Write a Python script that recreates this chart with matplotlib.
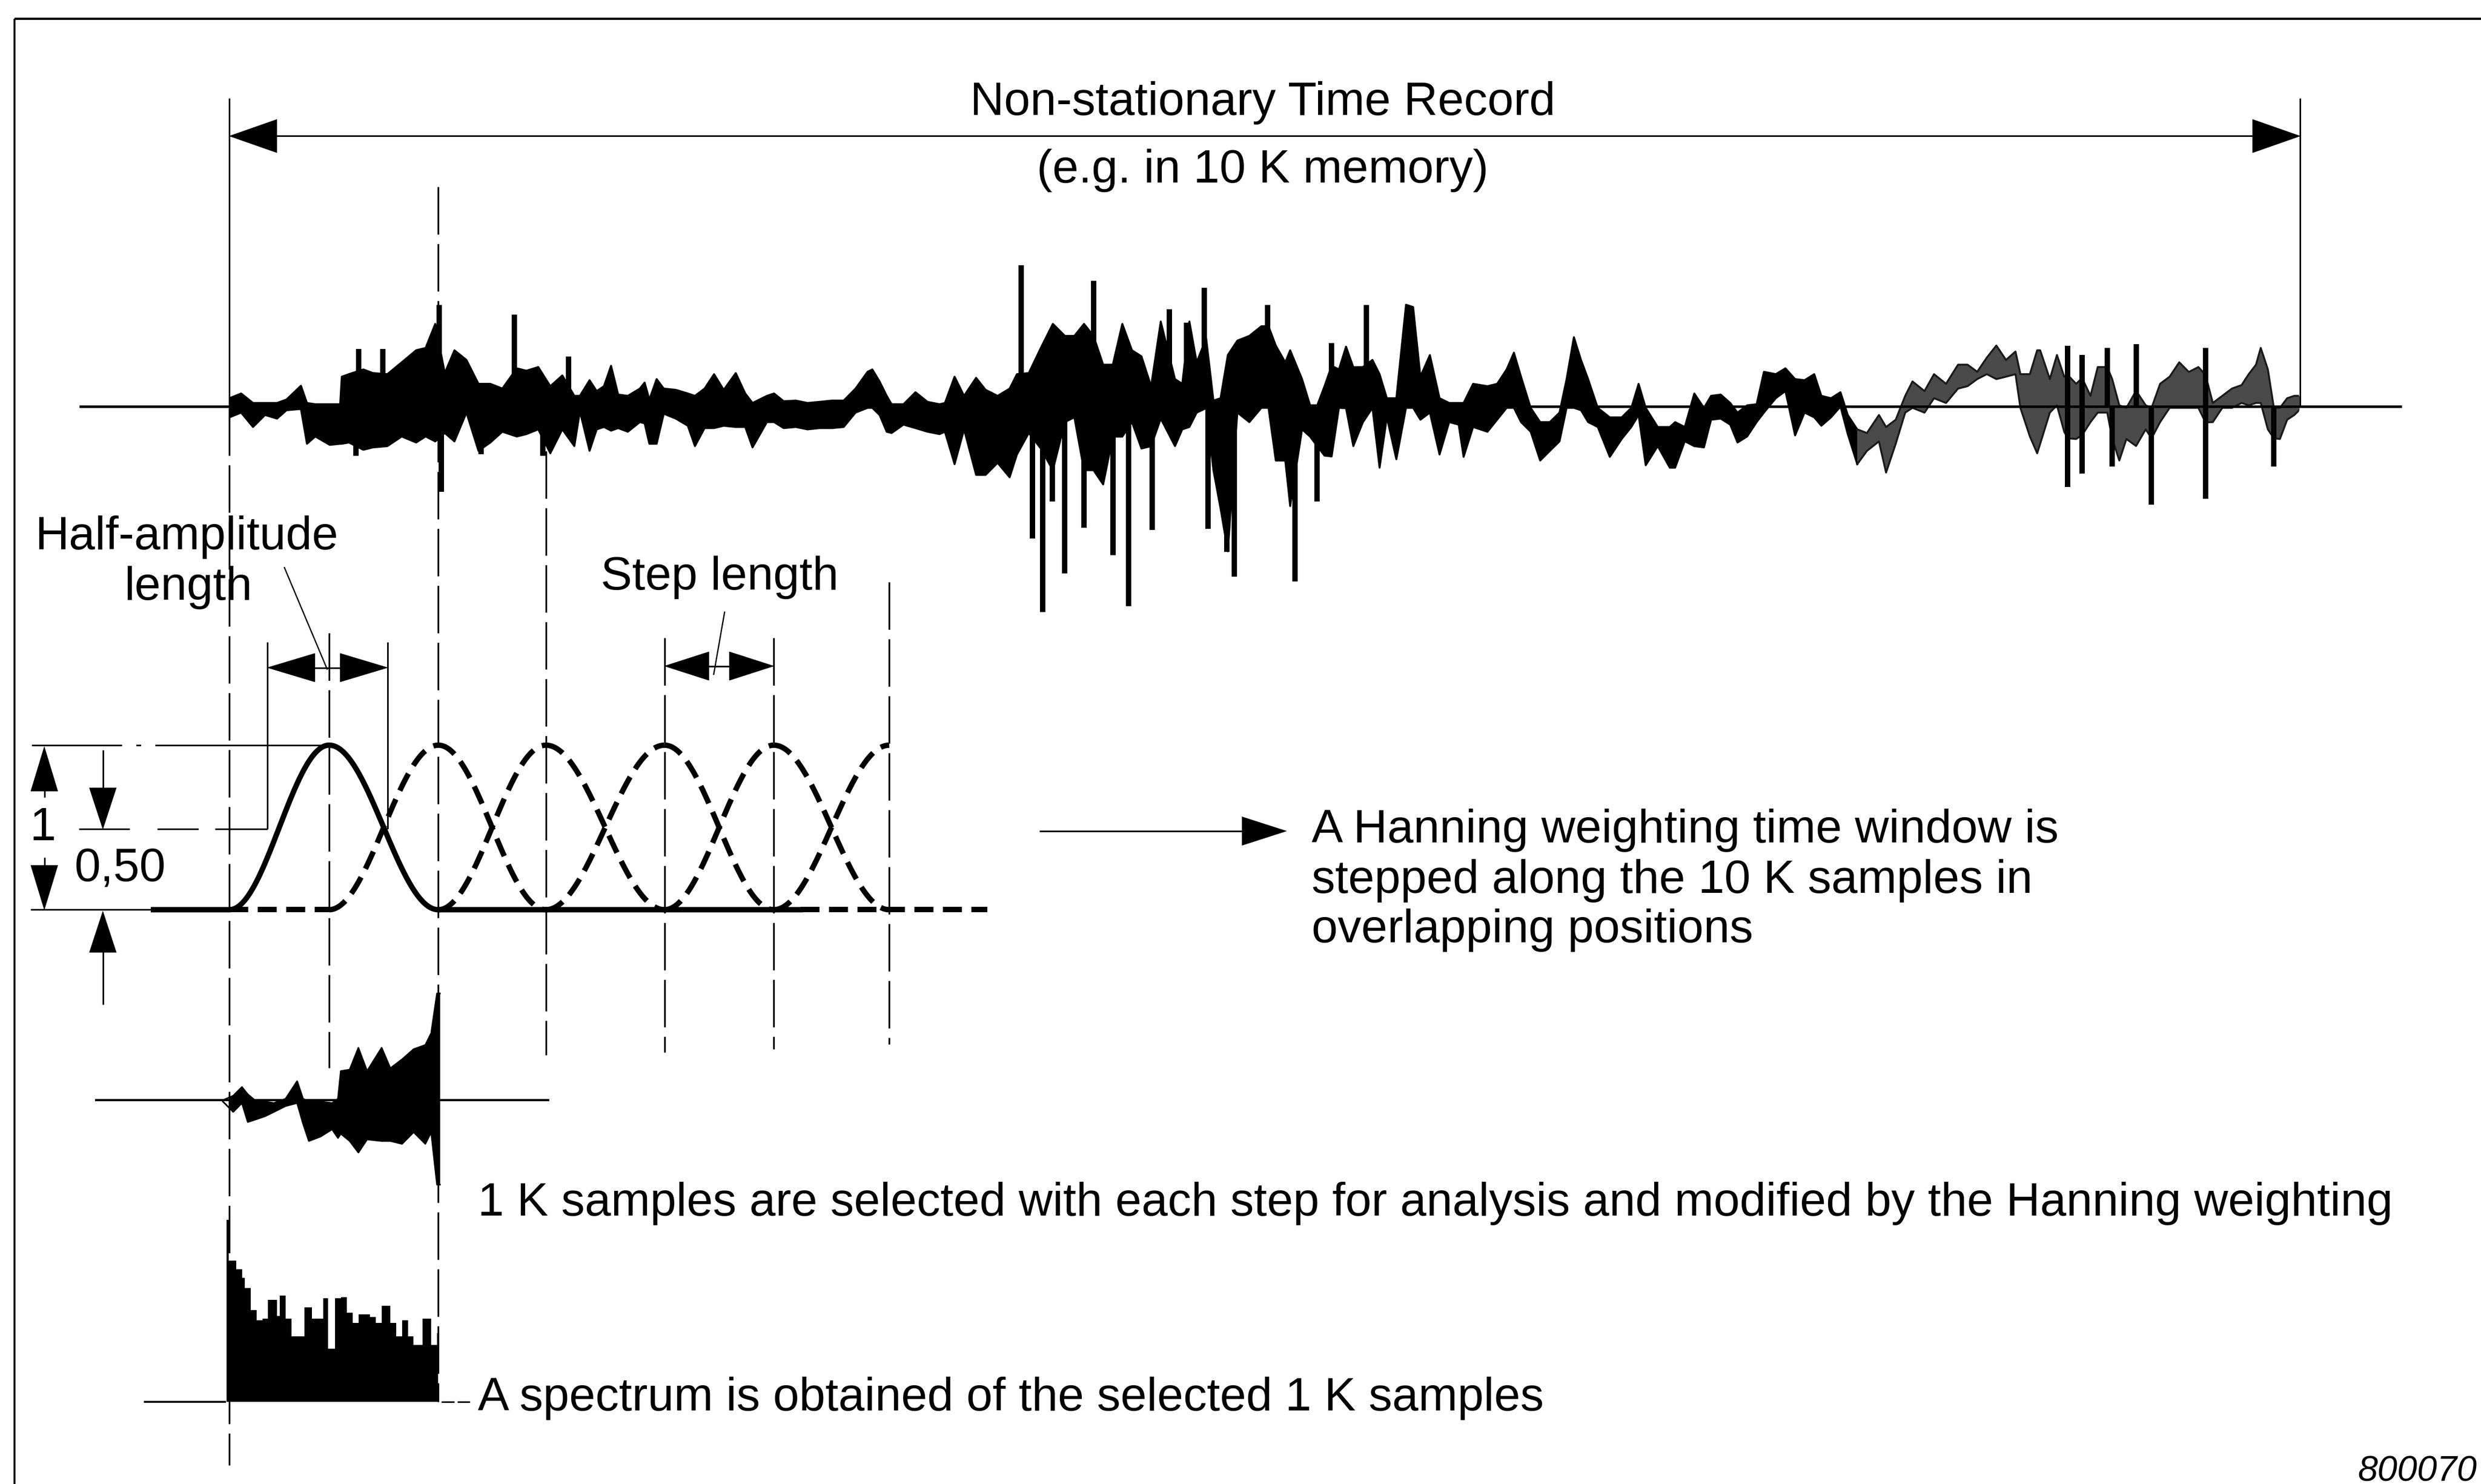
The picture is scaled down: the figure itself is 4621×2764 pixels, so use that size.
import numpy as np
import matplotlib.pyplot as plt
from matplotlib.patches import Polygon

plt.rcParams['font.family'] = ['Liberation Sans', 'DejaVu Sans']
plt.rcParams['lines.scale_dashes'] = False

# --- 10 K time record: envelope (time index, upper, lower amplitude) ---
rec_t = [0.0, 7.4, 14.9, 22.5, 30.1, 36.1, 45.2, 49.0, 54.3, 63.4, 70.0, 71.0,
         75.5, 84.6, 90.7, 99.8, 108.9, 118.0, 124.0, 130.1, 136.1, 142.2, 149.8,
         157.4, 164.9, 172.5, 181.6, 187.7, 195.2, 202.8, 210.4, 218.0,
         221.5, 227.6, 232.1, 236.7, 241.2, 245.7, 251.8, 259.4, 262.4, 265.4,
         270.0, 274.5, 282.1, 289.7, 294.2, 300.3, 306.3, 312.4, 320.0, 326.0,
         330.6, 339.7, 344.2, 350.3, 357.9, 365.4, 373.0, 380.6, 388.2, 395.7,
         403.3, 406.3, 410.9, 415.4, 418.5, 426.0, 433.6, 441.2, 448.8,
         452.2, 458.3, 464.3, 471.9, 477.9, 485.5, 493.1, 497.7, 505.2, 512.8,
         520.4, 528.0, 534.0, 540.1, 546.1, 552.2, 558.3, 564.3, 570.4, 576.4,
         582.5, 588.6, 597.6, 602.2, 606.7, 611.3, 617.3, 621.9, 626.4, 631.0,
         637.0, 644.6, 652.2, 656.7, 661.3, 667.3, 670.4, 677.9,
         683.0, 687.5, 692.1, 696.6, 701.2, 705.7, 710.3, 716.3, 722.4, 726.9,
         731.5, 737.5, 743.6, 748.1, 752.7, 758.7, 764.8, 770.9, 776.9, 780.0,
         786.0, 795.1, 801.2, 807.2, 811.8, 816.3, 822.4, 828.4, 834.5, 840.6,
         845.1, 849.7, 854.2, 858.7, 864.8, 872.4, 879.9, 886.0, 890.6, 895.1,
         902.7, 910.3,
         913.7, 919.8, 925.8, 931.9, 936.4, 942.5, 948.5, 953.1, 959.2, 965.2,
         969.8, 977.3, 983.4, 989.5, 995.5, 1001.6, 1006.1, 1012.2, 1018.2,
         1022.8, 1028.8, 1034.9, 1042.5, 1047.0, 1053.1, 1059.1, 1063.7, 1071.3,
         1077.3, 1084.9, 1092.5, 1098.5, 1104.6, 1110.7, 1116.7, 1122.8, 1128.8,
         1131.9, 1137.9, 1142.5,
         1144.4, 1150.5, 1155.0, 1159.6, 1161.8, 1167.1, 1170.9, 1176.2, 1180.8,
         1186.8, 1189.9, 1194.4, 1198.9, 1205.0, 1211.1, 1214.8, 1220.2, 1226.2,
         1232.3, 1238.3, 1244.4, 1248.9, 1253.5, 1259.5, 1265.6, 1271.7, 1276.2,
         1280.8, 1283.8, 1288.3, 1292.1, 1295.9, 1300.5, 1305.0, 1309.6]
rec_top = [5.3, 8.3, 2.3, 2.3, 2.3, 4.5, 13.2, 2.3, 1.5, 1.5, 1.5, 18.9,
           20.5, 23.5, 21.2, 20.5, 28.0, 35.6, 37.1, 52.3, 21.2, 35.6, 29.5,
           14.4, 14.4, 11.4, 24.2, 22.7, 25.0, 12.9, 19.7, 6.8,
           6.8, 16.7, 9.8, 12.9, 25.8, 7.6, 6.8, 11.4, 15.2, 4.5,
           17.4, 11.4, 10.6, 8.3, 6.8, 11.4, 20.5, 10.6, 21.2, 8.3,
           2.3, 6.8, 8.3, 3.4, 3.8, 2.3, 3.0, 3.8, 3.8, 11.4,
           22.0, 23.5, 15.9, 6.8, 1.5, 1.5, 9.1, 3.0, 1.5,
           2.3, 18.9, 6.8, 18.2, 10.6, 6.8, 11.4, 20.5, 21.2, 37.1,
           52.3, 44.7, 44.7, 52.3, 44.7, 26.5, 26.5, 52.3, 35.6, 31.8,
           12.9, 53.8, 17.4, 14.4, 53.8, 28.0, 43.2, 3.8, 5.3, 32.6,
           41.7, 44.7, 50.8, 50.8, 38.6, 28.0, 35.6, 17.4,
           0.8, 0.8, 12.9, 25.8, 23.5, 37.9, 24.9, 25.0, 29.5, 20.5,
           5.3, 5.3, 64.4, 62.9, 19.0, 32.6, 5.3, 2.3, 2.3, 2.3,
           14.4, 12.9, 14.4, 23.5, 34.1, 18.9, -0.8, -9.8, -9.8, -3.8,
           17.4, 43.9, 29.5, 17.4, -0.8, -6.8, -6.8, -0.8, 14.4, -0.8,
           -12.9, -12.9,
           -9.8, -12.9, 8.3, -0.8, 6.8, 7.6, 2.3, -3.8, 0.8, 1.5,
           22.0, 20.5, 24.2, 17.4, 16.7, 20.5, 6.8, 5.3, 9.1,
           -5.3, -14.4, -16.7, -5.3, -12.9, -8.3, 6.8, 15.9, 9.8,
           20.5, 14.4, 26.5, 26.5, 22.0, 31.0, 38.6, 29.5, 34.8,
           20.5, 20.5, 35.6,
           35.6, 17.4, 32.6, 18.9, 20.0, 14.4, 18.0, 6.8, 25.0,
           25.0, 17.4, 0.8, -0.8, 10.0, 0.8, -0.8, 14.4, 18.9,
           28.0, 21.9, 25.0, 20.0, 2.3, 6.8, 11.4, 13.6, 20.5,
           26.5, 37.1, 23.5, -0.8, -0.8, 5.3, 6.8, 6.8]
rec_bot = [-6.8, -3.8, -12.9, -5.3, -7.6, -2.3, -1.5, -23.5, -18.9, -24.2, -23.5, -23.5,
           -22.7, -27.3, -25.8, -25.0, -18.9, -22.7, -18.9, -22.0, -16.7, -22.0, -3.8,
           -28.0, -22.7, -15.9, -18.9, -17.4, -14.4, -29.5, -14.4, -25.0,
           -3.0, -28.0, -14.4, -12.9, -15.2, -13.6, -15.9, -9.8, -10.6, -23.5,
           -23.5, -4.5, -7.6, -12.1, -25.0, -13.6, -13.6, -12.1, -12.9, -12.9,
           -25.8, -9.8, -9.8, -13.6, -12.9, -14.4, -13.6, -13.6, -12.9, -3.8,
           -0.8, -0.8, -5.3, -15.9, -16.7, -11.4, -13.6, -15.9, -17.4,
           -15.9, -36.4, -14.4, -43.2, -43.2, -35.6, -44.7, -30.3, -16.7, -26.5,
           -40.2, -9.8, -6.8, -40.2, -40.2, -49.2, -19.0, -19.0, -9.8, -26.5,
           -25.0, -7.6, -25.0, -14.4, -12.9, -3.8, -1.0, -40.2, -64.4, -91.5,
           -3.8, -9.8, -0.8, -0.8, -34.1, -34.1, -62.9, -14.4,
           -19.0, -25.0, -31.0, -31.5, -0.8, -1.0, -25.0, -10.0, -0.8, -38.6,
           -6.8, -33.3, -0.8, -0.8, -8.3, -3.8, -30.3, -9.8, -11.4, -31.8,
           -12.9, -15.9, -8.3, -0.8, -0.8, -9.8, -15.9, -34.1, -28.0, -22.0,
           -0.8, -0.8, -2.3, -9.8, -12.9, -31.8, -20.5, -12.9, -5.3, -37.1,
           -25.0, -38.6,
           -38.6, -21.9, -25.0, -25.8, -8.3, -7.6, -11.4, -22.7, -18.9, -9.8,
           -3.8, 5.3, 9.8, -18.2, -3.8, -6.8, -12.1, -6.8, 0.0,
           -17.4, -36.4, -28.0, -22.0, -41.7, -23.5, -3.8, -0.8, -3.8,
           5.3, 2.3, 11.4, 12.9, 17.4, 20.5, 17.4, 18.9, 20.5,
           -0.8, -18.9, -29.5,
           -23.5, -3.8, 0.8, -15.9, -20.0, -20.5, -18.0, -9.8, -3.8,
           -3.8, -20.0, -34.1, -20.5, -24.9, -14.4, -20.0, -9.8, -0.8,
           -0.8, -0.8, -0.8, -10.0, -9.8, -0.8, -0.8, 2.3, 0.8,
           2.3, 2.3, -14.4, -20.0, -20.5, -8.3, -5.3, -0.8]

# narrow transients of the record (time index, tip amplitude)
spike_t = [81.6, 96.8, 132.4, 180.1, 214.2, 133.9, 80.0, 159.0, 198.2,
           500.4, 546.1, 593.9, 604.9, 616.1, 656.0,
           507.5, 514.0, 520.0, 528.0, 540.0, 558.3, 568.1, 583.2, 618.5,
           630.2, 635.2, 673.4,
           687.5, 696.6, 718.5,
           1161.8, 1170.9, 1186.8, 1205.0, 1248.9,
           1161.8, 1170.9, 1189.9, 1214.8, 1248.9, 1292.1]
spike_amp = [36.4, 36.4, 64.4, 58.3, 31.8, -53.8, -31.0, -30.0, -31.0,
             89.4, 79.5, 61.4, 53.0, 75.0, 64.4,
             -83.3, -130.0, -59.8, -105.3, -76.5, -93.9, -126.0, -78.0, -77.3,
             -91.7, -107.6, -110.6,
             -59.8, 40.2, 64.4,
             38.6, 32.6, 37.1, 39.4, 37.1,
             -50.8, -42.4, -37.9, -62.1, -58.3, -37.9]

# --- selected 1 K samples after weighting ---
sel_t = [-4.1, 2.4, 7.9, 11.6, 17.1, 22.6, 28.1, 35.5, 42.8, 46.5, 50.2, 57.6,
         64.9, 68.6, 70.4, 76.0, 81.5, 87.0, 96.2, 101.7, 109.1, 116.4, 123.8,
         127.5, 131.2, 133.0]
sel_top = [0.0, 2.8, 8.3, 3.7, -0.9, -0.9, -1.8, 0.9, 12.0, 0.9, -0.9, -0.9,
           -1.8, 0.9, 18.4, 19.3, 33.1, 18.4, 33.1, 20.2, 25.8, 32.2, 34.9,
           42.3, 67.5, 67.5]
sel_bot = [-0.9, -7.4, -1.8, -13.8, -12.0, -10.1, -7.4, -3.7, -1.8, -14.7, -25.8,
           -23.0, -18.4, -23.9, -21.2, -25.8, -33.1, -24.8, -25.8, -25.8, -27.6,
           -20.2, -27.6, -20.2, -53.4, -53.4]

# --- spectrum of the selected samples ---
spec_f = [0.3, 1.6, 6.2, 9.9, 11.7, 15.4, 19.1, 22.8, 26.4, 32.0, 33.8, 37.5,
          41.2, 46.7, 49.4, 54.0, 57.7, 61.4, 64.2, 68.8, 72.4, 76.1, 79.8,
          83.5, 90.8, 94.5, 98.2, 101.9, 103.7, 107.4, 111.1, 114.8, 118.4,
          123.9, 127.6, 129.5, 133.2, 134.0]
spec_amp = [115.0, 89.2, 83.7, 78.2, 71.8, 57.9, 51.5, 52.4, 64.4, 54.3, 67.2,
            52.4, 41.4, 41.4, 59.8, 52.4, 52.4, 65.3, 33.6, 65.3, 66.2, 56.1,
            49.7, 55.2, 53.4, 49.7, 60.7, 60.7, 49.7, 41.4, 51.5, 41.4, 35.9,
            52.4, 52.4, 35.9, 43.2, 43.2]

# window step marks along the record (same time index)
step_marks = [0, 63, 132, 200, 275, 344, 417]

# layout grid
W, H = 1568, 938
PT = 2.947 * 72 / 100  # points per grid unit
FS = 63

fig = plt.figure(figsize=(46.21, 27.64), dpi=100)
canvas = fig.add_axes([0, 0, 1, 1])
canvas.set_xlim(0, W)
canvas.set_ylim(H, 0)
canvas.axis('off')


def panel(x0, x1, y_top, y_bottom):
    ax = fig.add_axes([x0 / W, 1 - y_bottom / H, (x1 - x0) / W, (y_bottom - y_top) / H])
    ax.axis('off')
    ax.patch.set_alpha(0)
    return ax


def line(xs, ys, lw=1.0, **kw):
    canvas.plot(xs, ys, color='black', lw=lw * PT, solid_capstyle='butt', **kw)


def head(tip, direction, length=28, half=9):
    tx, ty = tip
    dx, dy = direction
    bx, by = tx - dx * length, ty - dy * length
    px, py = -dy, dx
    canvas.add_patch(Polygon([(tx, ty), (bx + px * half, by + py * half),
                              (bx - px * half, by - py * half)],
                             closed=True, facecolor='black', edgecolor='black', lw=0.5))


def label(x, y, s, ha='left', size=FS, **kw):
    canvas.text(x, y, s, ha=ha, va='baseline', fontsize=size, color='black', **kw)


# frame
line([9, W], [12, 12], lw=1.4)
line([9, 9], [12, H], lw=1.2)

# record span arrow
x_start, x_end = 145, 1453.7
line([x_start + 20, x_end - 20], [86, 86], lw=1.0)
head((x_start, 86), (-1, 0), 30, 10.5)
head((x_end, 86), (1, 0), 30, 10.5)
line([x_start, x_start], [62, 258], lw=1.0)
line([x_end, x_end], [62, 257], lw=1.0)
label(798, 72.5, 'Non-stationary Time Record', ha='center')
label(798, 115.5, '(e.g. in 10 K memory)', ha='center')

# dashed step marks
mark_spans = [(258, 926), (400, 675), (118, 886), (285, 667), (403, 665), (403, 663), (368, 660)]
for m, (y0, y1) in zip(step_marks, mark_spans):
    canvas.plot([x_start + m] * 2, [y0, y1], color='black', lw=1.1 * PT,
                dashes=(30 * PT, 6 * PT))

# time record
rec = panel(x_start, x_start + 1308, 157, 392)
rec.set_xlim(0, 1308)
rec.set_ylim(-135, 100)
t = np.array(rec_t)
top = np.array(rec_top)
bot = np.array(rec_bot)
dense = t <= 1032
light = t >= 1028
rec.fill_between(t, bot, top, where=dense, color='black', lw=0)
rec.fill_between(t, bot, top, where=light, color='#4a4a4a', lw=0)
rec.plot(t[dense], top[dense], color='black', lw=1.2 * PT)
rec.plot(t[dense], bot[dense], color='black', lw=1.2 * PT)
rec.plot(t[light], top[light], color='#1a1a1a', lw=1.2 * PT)
rec.plot(t[light], bot[light], color='#1a1a1a', lw=1.2 * PT)
rec.vlines(spike_t, 0, spike_amp, color='black', lw=3.4 * PT)
rec.plot([-94, 1372], [0, 0], color='black', lw=1.6 * PT, clip_on=False)

# Hanning windows
han = panel(97, 624, 460.6, 585.4)
han.set_xlim(-48, 479)
han.set_ylim(-0.1, 1.1)
dash = (12 * PT, 6 * PT)
lw_h = 3.4 * PT


def rise(a, b):
    x = np.linspace(a, b, 80)
    return x, 0.5 * (1 - np.cos(np.pi * (x - a) / (b - a)))


def fall(b, c):
    x = np.linspace(b, c, 80)
    return x, 0.5 * (1 + np.cos(np.pi * (x - b) / (c - b)))


a, b, c = step_marks[0], step_marks[1], step_marks[2]
xr, yr = rise(a, b)
xf, yf = fall(b, c)
han.plot(np.r_[-48, xr, xf, 361], np.r_[0, yr, yf, 0], color='black', lw=lw_h,
         solid_joinstyle='round', clip_on=False)
for i in range(1, len(step_marks) - 1):
    xr, yr = rise(step_marks[i], step_marks[i + 1])
    han.plot(xr, yr, color='black', lw=lw_h, dashes=dash, clip_on=False)
    if i + 2 < len(step_marks):
        xf, yf = fall(step_marks[i + 1], step_marks[i + 2])
        han.plot(xf, yf, color='black', lw=lw_h, dashes=dash, clip_on=False)
han.plot([0, 63], [0, 0], color='black', lw=lw_h, dashes=dash)
han.plot([361, 479], [0, 0], color='black', lw=lw_h, dashes=dash, clip_on=False)

# amplitude dimensions
line([20, 208], [471, 471], lw=1.0, dashes=(57 * PT, 9 * PT, 3 * PT, 9 * PT, 200 * PT))
line([50, 169], [524, 524], lw=1.0, dashes=(32 * PT, 17.5 * PT, 26 * PT, 10.5 * PT, 40 * PT))
line([19.5, 97], [575, 575], lw=1.0)
line([28, 28], [480, 504], lw=1.0)
line([28, 28], [542, 567], lw=1.0)
head((28, 472), (0, -1), 28, 8.5)
head((28, 575), (0, 1), 28, 8.5)
label(27, 531, '1', ha='center')
line([65, 65], [474, 510], lw=1.0)
head((65, 524), (0, 1), 26, 8.5)
line([65, 65], [590, 635], lw=1.0)
head((65, 576), (0, -1), 26, 8.5)
label(47, 557, '0,50')

# half-amplitude length
line([169, 169], [406, 524], lw=1.0)
line([245, 245], [406, 524], lw=1.0)
line([190, 225], [422, 422], lw=1.0)
head((169, 422), (-1, 0), 30, 9)
head((245, 422), (1, 0), 30, 9)
line([179.6, 206.9], [358.4, 423.3], lw=0.8)
label(118, 347, 'Half-amplitude', ha='center')
label(119, 379, 'length', ha='center')

# step length
line([440, 470], [421, 421], lw=1.0)
head((420, 421), (-1, 0), 28, 9)
head((489, 421), (1, 0), 28, 9)
line([458, 451], [386.6, 426.6], lw=0.8)
label(455, 372.5, 'Step length', ha='center')

# explanation of the stepping
line([657, 790], [525.3, 525.3], lw=1.0)
head((813, 525.3), (1, 0), 28, 9)
label(829, 532.4, 'A Hanning weighting time window is')
label(829, 564.3, 'stepped along the 10 K samples in')
label(829, 595.7, 'overlapping positions')

# selected and weighted 1 K samples
sel = panel(x_start, 278, 620.4, 755.4)
sel.set_xlim(0, 133)
sel.set_ylim(-60, 75)
sel.fill_between(sel_t, sel_bot, sel_top, color='black', lw=0)
sel.plot(sel_t, sel_top, color='black', lw=1.0 * PT, clip_on=False)
sel.plot(sel_t, sel_bot, color='black', lw=1.0 * PT, clip_on=False)
line([60, 347], [695.4, 695.4], lw=1.4)
label(302, 768.3, '1 K samples are selected with each step for analysis and modified by the Hanning weighting')

# spectrum
spec = panel(143, 280, 766, 886)
spec.set_xlim(0, 137)
spec.set_ylim(0, 120)
spec.fill_between(spec_f, 0, spec_amp, step='post', color='black', lw=0)
line([91, 143], [886, 886], lw=1.2)
line([279, 287], [886, 886], lw=1.0)
line([289, 297], [886, 886], lw=1.0)
label(302, 891.4, 'A spectrum is obtained of the selected 1 K samples')

label(1490, 936, '800070', size=48, style='italic')

fig.savefig('out.png', dpi=100)
